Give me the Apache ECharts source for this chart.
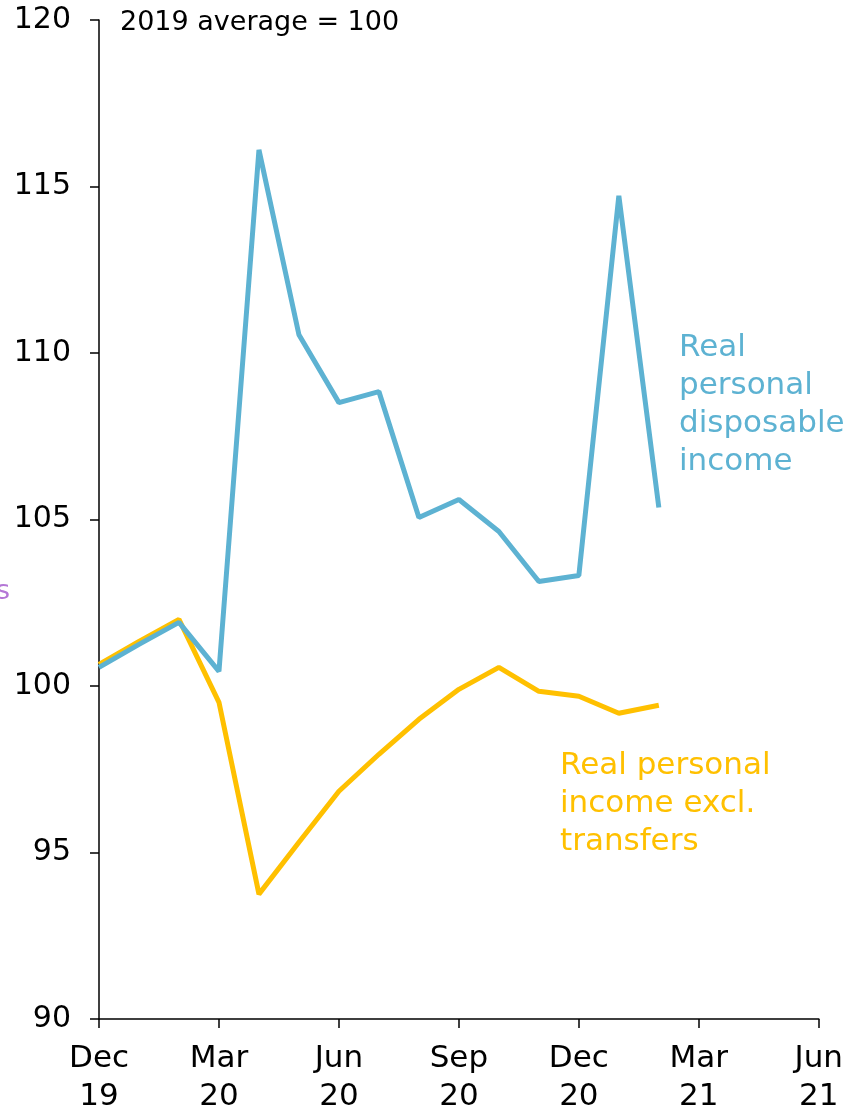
<!DOCTYPE html>
<html>
<head>
<meta charset="utf-8">
<script src="https://cdn.jsdelivr.net/npm/echarts@6/dist/echarts.min.js"></script>
<style>
  html, body { margin: 0; padding: 0; background: #fff; }
  #chart { width: 846px; height: 1116px; }
</style>
</head>
<body>
<div id="chart"></div>
<script>
// Monthly index levels, 2019 average = 100
const months = [
  'Dec\n19', 'Jan\n20', 'Feb\n20', 'Mar\n20', 'Apr\n20', 'May\n20', 'Jun\n20',
  'Jul\n20', 'Aug\n20', 'Sep\n20', 'Oct\n20', 'Nov\n20', 'Dec\n20',
  'Jan\n21', 'Feb\n21', 'Mar\n21', 'Apr\n21', 'May\n21', 'Jun\n21'
];
const disposableIncome = [
  100.56, 101.25, 101.91, 100.44, 116.1, 110.55, 108.51, 108.84,
  105.06, 105.6, 104.64, 103.14, 103.32, 114.72, 105.36
];
const incomeExTransfers = [
  100.65, 101.34, 102.0, 99.51, 93.75, 95.31, 96.84, 97.95,
  99.0, 99.9, 100.56, 99.84, 99.69, 99.18, 99.42
];

const FONT = '"DejaVu Sans"';
const BLUE = '#5db2d2';
const GOLD = '#ffc000';

const chart = echarts.init(document.getElementById('chart'));
chart.setOption({
  animation: false,
  grid: { left: 99, right: 27, top: 20, bottom: 96 },
  xAxis: {
    type: 'category',
    data: months,
    boundaryGap: false,
    axisLine: { lineStyle: { color: '#000', width: 1.5 } },
    axisTick: { interval: 2, length: 9, lineStyle: { color: '#000', width: 1.5 } },
    axisLabel: {
      interval: 2,
      color: '#000',
      fontFamily: FONT,
      fontSize: 31,
      lineHeight: 38,
      margin: 21
    }
  },
  yAxis: {
    type: 'value',
    min: 90,
    max: 120,
    interval: 5,
    splitLine: { show: false },
    axisLine: { show: true, lineStyle: { color: '#000', width: 1.5 } },
    axisTick: { show: true, length: 9, lineStyle: { color: '#000', width: 1.5 } },
    axisLabel: { color: '#000', fontFamily: FONT, fontSize: 30, margin: 28 }
  },
  series: [
    {
      name: 'Real personal income excl. transfers',
      type: 'line',
      data: incomeExTransfers,
      symbol: 'none',
      lineStyle: { color: GOLD, width: 5 },
      z: 2
    },
    {
      name: 'Real personal disposable income',
      type: 'line',
      data: disposableIncome,
      symbol: 'none',
      lineStyle: { color: BLUE, width: 5 },
      z: 3
    }
  ],
  graphic: [
    {
      type: 'text', left: 120, top: 9,
      style: { text: '2019 average = 100', fill: '#000', font: '27px ' + FONT }
    },
    {
      type: 'text', left: 679, top: 329,
      style: {
        text: 'Real\npersonal\ndisposable\nincome',
        fill: BLUE, font: '31px ' + FONT, lineHeight: 38
      }
    },
    {
      type: 'text', left: 560, top: 747,
      style: {
        text: 'Real personal\nincome excl.\ntransfers',
        fill: GOLD, font: '31px ' + FONT, lineHeight: 38
      }
    },
    {
      type: 'text', left: -4, top: 578,
      style: { text: 's', fill: '#b477d6', font: '27px ' + FONT }
    }
  ]
});
</script>
</body>
</html>
